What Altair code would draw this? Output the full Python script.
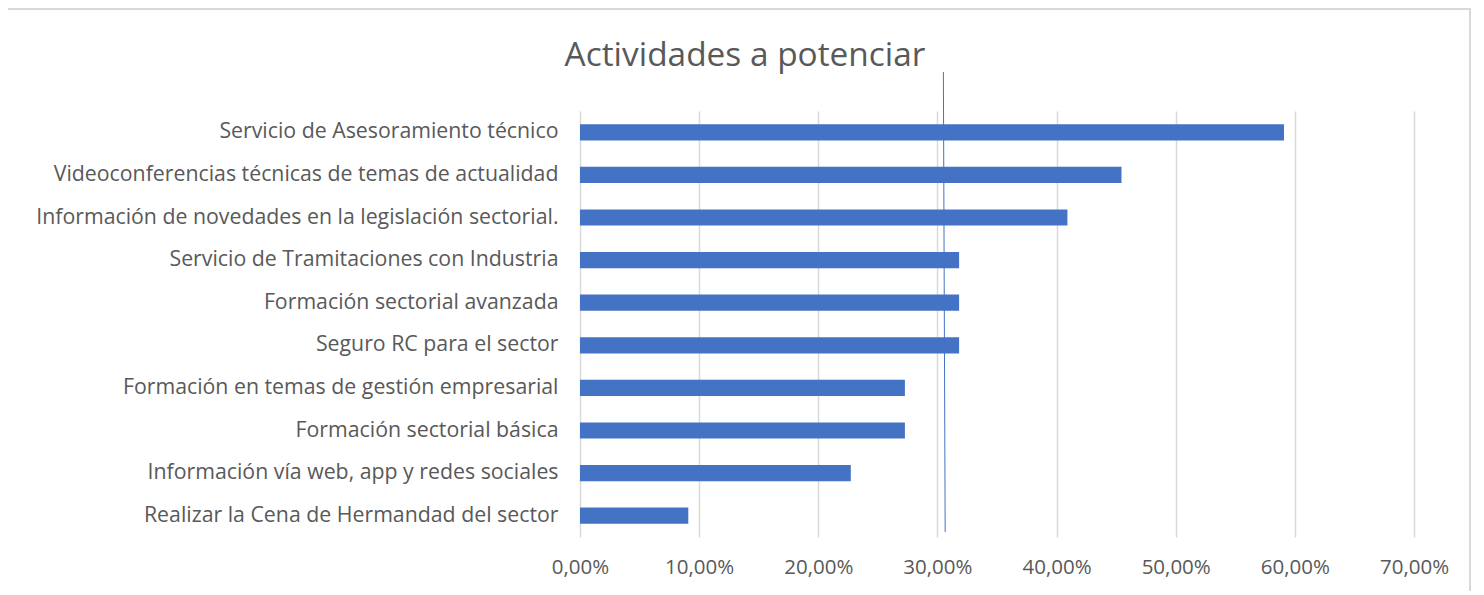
import altair as alt
import pandas as pd

title_text = "Actividades a potenciar"
categories = [
    "Servicio de Asesoramiento técnico\u00a0",
    "Videoconferencias técnicas de temas de actualidad",
    "Información de novedades en la legislación sectorial.\u00a0",
    "Servicio de Tramitaciones con Industria\u00a0",
    "Formación sectorial avanzada\u00a0",
    "Seguro RC para el sector",
    "Formación en temas de gestión empresarial",
    "Formación sectorial básica",
    "Información vía web, app y redes sociales",
    "Realizar la Cena de Hermandad del sector\u00a0",
]
values = [59.09, 45.45, 40.91, 31.82, 31.82, 31.82, 27.27, 27.27, 22.73, 9.09]
ref_top = [30.5]
ref_bottom = [30.65]
x_ticks = [0, 10, 20, 30, 40, 50, 60, 70]

FONT = "Open Sans"
GRAY = "#595959"
BLUE = "#4472C4"

df = pd.DataFrame({"cat": categories, "val": values})
ref_df = pd.DataFrame({"x": ref_top, "x2": ref_bottom})
title_df = pd.DataFrame({"t": [title_text]})

x_scale = alt.Scale(domain=[0, 70], nice=False, zero=True)

bars = alt.Chart(df).mark_bar(color=BLUE).encode(
    x=alt.X("val:Q", scale=x_scale,
            axis=alt.Axis(values=x_ticks, title=None, domain=False, ticks=False,
                          grid=True, gridColor="#D9D9D9", gridWidth=1.5,
                          labelFont=FONT, labelFontSize=20.5, labelColor=GRAY,
                          labelPadding=20, labelFlush=False,
                          labelExpr="replace(format(datum.value, '.2f'), '.', ',') + '%'")),
    y=alt.Y("cat:N", sort=categories,
            scale=alt.Scale(paddingInner=0.62, paddingOuter=0.31),
            axis=alt.Axis(title=None, domain=False, ticks=False, grid=False,
                          labelFont=FONT, labelFontSize=21.3, labelColor=GRAY,
                          labelPadding=22, labelLimit=700)),
)

ref_line = alt.Chart(ref_df).mark_rule(color=BLUE, strokeWidth=1).encode(
    x=alt.X("x:Q", scale=x_scale),
    x2="x2:Q",
    y=alt.value(-39),
    y2=alt.value(421),
)

title = alt.Chart(title_df).mark_text(
    font=FONT, fontSize=33.4, color=GRAY, align="center", baseline="middle"
).encode(text="t:N", x=alt.value(165), y=alt.value(-55))

frame = alt.Chart(title_df).mark_rect(
    fill=None, stroke="#D9D9D9", strokeWidth=2
).encode(x=alt.value(-574), x2=alt.value(890), y=alt.value(-102), y2=alt.value(620))

chart = alt.layer(frame, bars, ref_line, title).properties(
    width=834, height=426,
    autosize=alt.AutoSizeParams(type="none"),
    padding={"left": 572, "top": 103, "right": 62, "bottom": 54},
).configure(background="white", view=alt.ViewConfig(stroke=None))

chart.save("out.html", embed_options={"renderer": "svg", "actions": False})
